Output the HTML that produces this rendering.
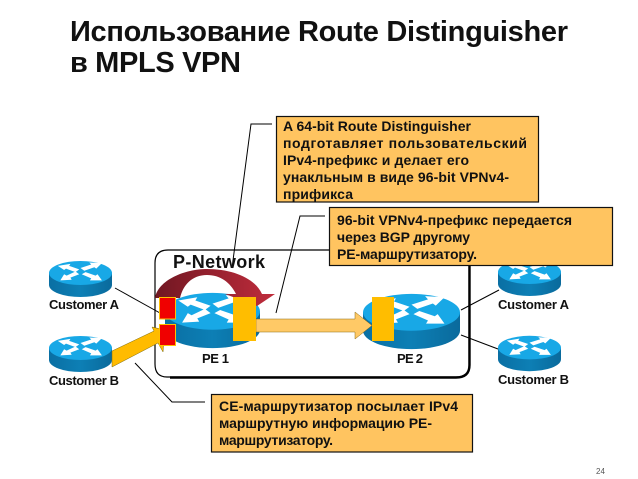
<!DOCTYPE html>
<html><head><meta charset="utf-8">
<style>
html,body{margin:0;padding:0;background:#fff;width:638px;height:479px;overflow:hidden}
svg{display:block}
text{font-family:"Liberation Sans","Noto Sans CJK SC",sans-serif;font-weight:bold;fill:#111}
.t{font-size:14px}
.l{font-size:13px}
</style></head>
<body>
<svg width="638" height="479" viewBox="0 0 638 479" xmlns="http://www.w3.org/2000/svg">
<defs>
<linearGradient id="side" x1="0" x2="1" y1="0" y2="0">
<stop offset="0" stop-color="#0a6fa3"/><stop offset="0.5" stop-color="#0d7fb5"/><stop offset="1" stop-color="#0a6a9c"/>
</linearGradient>
<linearGradient id="arc" x1="0" x2="1" y1="0" y2="0">
<stop offset="0" stop-color="#701722"/><stop offset="1" stop-color="#c02c3c"/>
</linearGradient>
<g id="router">
<path d="M-50,-10 V10 A50,20 0 0 0 50,10 V-10 Z" fill="url(#side)"/>
<ellipse cx="0" cy="-10" rx="50" ry="20" fill="#18a8e6"/>
<g fill="#fff" transform="translate(0,3.500) scale(1,1.150)">
<polygon points="-36,-22 -16,-25 -18,-22 -2,-17 -8,-13 -23,-18 -26,-16"/>
<polygon points="34,-26 14,-27 17,-24 0,-19 6,-15 22,-20 25,-18"/>
<polygon points="-32,-1 -14,-2 -16,-5 -2,-10 -8,-14 -22,-8 -26,-10"/>
<polygon points="2,-10 8,-13 24,-8 27,-10 34,-1 15,-1 17,-4"/>
</g>
</g>
</defs>

<!-- P-Network box -->
<path d="M168,250 H469 V366 Q469,377 456,377 H167 Q155,377 155,364 V263 Q155,250 168,250 Z" fill="#fff" stroke="#000" stroke-width="1.2"/>
<path d="M469.5,262 V365 Q469.5,377.5 456,377.5 H170" fill="none" stroke="#000" stroke-width="2.4"/>

<!-- connectors -->
<g fill="none" stroke="#000" stroke-width="1">
<path d="M115,288 L160,313"/>
<path d="M461,310 L499,290"/>
<path d="M461,335 L498,349"/>
<path d="M272,124 H251 L232,268"/>
<path d="M325,216 H300 L276,313"/>
<path d="M205,402 H172 L135,363"/>
</g>

<!-- routers -->
<use href="#router" transform="translate(80.5,279) scale(0.63,0.6)"/>
<use href="#router" transform="translate(80.5,354) scale(0.63,0.6)"/>
<use href="#router" transform="translate(529.5,278) scale(0.63,0.6)"/>
<use href="#router" transform="translate(529.5,353.500) scale(0.63,0.59)"/>
<use href="#router" transform="translate(212.5,320.5) scale(0.95,0.92)"/>
<use href="#router" transform="translate(411.5,321.5) scale(0.97,0.92)"/>

<text x="173" y="268" font-size="18" textLength="92" lengthAdjust="spacing">P-Network</text>

<!-- curved arrow -->
<path d="M155,298 C158,280 185,269 207,269 C232,269 255,278 262,294 L275,294 L257,306 L225,294 L236,294 C230,282 220,275 207,275 C192,275 183,285 180,298 Z" fill="url(#arc)"/>

<!-- forward arrow -->
<polygon points="256,319 355,319 355,312 372,325.500 355,339 355,332 256,332" fill="#ffc966" stroke="#8a6a10" stroke-width="0.5"/>

<!-- customer B arrow -->
<polygon points="112,351 154,331 152,327 165,330 163,352 158,343 112,367" fill="#ffbb00" stroke="#7a6a10" stroke-width="0.5"/>

<!-- rectangles -->
<rect x="159.500" y="297.500" width="16" height="21.500" fill="#f00000" stroke="#ffc000" stroke-width="1"/>
<rect x="159.500" y="324.500" width="16" height="21" fill="#f00000" stroke="#ffc000" stroke-width="1"/>
<rect x="233" y="297" width="23" height="44" fill="#ffbd00"/>
<rect x="372" y="297" width="22" height="44" fill="#ffbd00"/>

<!-- router labels -->
<text class="l" x="49" y="309" textLength="70" lengthAdjust="spacing">Customer A</text>
<text class="l" x="49" y="385" textLength="70" lengthAdjust="spacing">Customer B</text>
<text class="l" x="498" y="309" textLength="71" lengthAdjust="spacing">Customer A</text>
<text class="l" x="498" y="384" textLength="71" lengthAdjust="spacing">Customer B</text>
<text class="l" x="202" y="363" textLength="27" lengthAdjust="spacing">PE 1</text>
<text class="l" x="397" y="363" textLength="26" lengthAdjust="spacing">PE 2</text>

<!-- callouts -->
<rect x="276.500" y="116.500" width="262" height="85.500" fill="#ffc460" stroke="#111" stroke-width="1.200"/>
<text class="t" x="283" y="131" textLength="188" lengthAdjust="spacing">A 64-bit Route Distinguisher</text>
<text class="t" x="283" y="148" textLength="244" lengthAdjust="spacing">подготавляет пользовательский</text>
<text class="t" x="283" y="165" textLength="186" lengthAdjust="spacing">IPv4-префикс и делает его</text>
<text class="t" x="283" y="182" textLength="226" lengthAdjust="spacing">унакльным в виде 96-bit VPNv4-</text>
<text class="t" x="283" y="199" textLength="70" lengthAdjust="spacing">прификса</text>

<rect x="329.500" y="207.500" width="283" height="58" fill="#ffc460" stroke="#111" stroke-width="1.200"/>
<text class="t" x="337" y="225" textLength="235" lengthAdjust="spacing">96-bit VPNv4-префикс передается</text>
<text class="t" x="337" y="242" textLength="133" lengthAdjust="spacing">через BGP другому</text>
<text class="t" x="337" y="259" textLength="140" lengthAdjust="spacing">PE-маршрутизатору.</text>

<rect x="211.500" y="394.500" width="261" height="57.500" fill="#ffc460" stroke="#111" stroke-width="1.200"/>
<text class="t" x="219" y="411" textLength="239" lengthAdjust="spacing">CE-маршрутизатор посылает IPv4</text>
<text class="t" x="219" y="428" textLength="213" lengthAdjust="spacing">маршрутную информацию PE-</text>
<text class="t" x="219" y="445" textLength="114" lengthAdjust="spacing">маршрутизатору.</text>

<!-- title -->
<text x="70" y="41" font-size="29" textLength="498" lengthAdjust="spacing">Использование Route Distinguisher</text>
<text x="70" y="72" font-size="29" textLength="171" lengthAdjust="spacing">в MPLS VPN</text>

<text x="596" y="474" font-size="8" style="font-weight:normal;fill:#555">24</text>
</svg>
</body></html>
